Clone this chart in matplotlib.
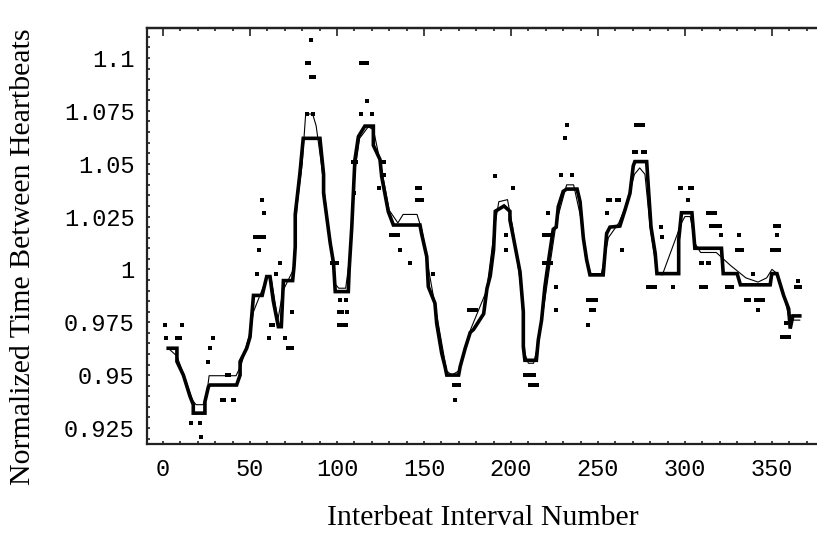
import matplotlib
matplotlib.use("Agg")
import matplotlib.pyplot as plt
import numpy as np

# thick (smoothed) curve vertices
thick_x = [3, 8, 8, 11.7, 15.5, 17.4, 17.4, 24.1, 24.1, 26.1, 27, 42.3, 44.3, 44.3,
           48.1, 50, 52, 57, 59.6, 61.5, 63.4, 66.3, 68, 69.2, 74.5, 75.3, 76, 76,
           78.7, 80.6, 90.2, 92.3, 92.3, 96.1, 98, 99, 106.5, 107, 108.5, 109.4,
           110.3, 112.3, 116, 120.9, 120.9, 124.7, 125.7, 129.5, 132.4, 147.7,
           148.6, 151.6, 152.5, 156.3, 157.3, 160.2, 162.1, 163.1, 169.9, 170.8,
           173.7, 176.6, 178.5, 184.3, 186.2, 188.1, 190, 190.5, 191, 196, 199.4,
           199.4, 201.3, 205.2, 207.1, 207.1, 208, 214.6, 215.7, 217.6, 219.5,
           221.4, 224.3, 226, 227.2, 230, 232, 238, 239.7, 241.6, 243.5, 245.4,
           253, 255, 256.9, 262.6, 265.5, 268.4, 270.3, 271.2, 278, 279, 280.5,
           282.9, 283.9, 296.4, 296.4, 298, 304, 305, 305.7, 321, 322, 330, 331.9,
           349, 349.9, 352.9, 356.7, 359.6, 360.5, 362, 366]
thick_y = [0.9627, 0.9627, 0.9564, 0.950, 0.940, 0.936, 0.932, 0.932, 0.9374, 0.9445,
           0.9453, 0.9453, 0.950, 0.9564, 0.9627, 0.968, 0.9877, 0.9877, 0.9966,
           0.9966, 0.985, 0.9729, 0.9729, 0.9947, 0.9947, 1.0014, 1.0108, 1.026,
           1.0455, 1.062, 1.062, 1.045, 1.036, 1.0125, 1.003, 0.9895, 0.9895, 1.0,
           1.02, 1.036, 1.0518, 1.0628, 1.0678, 1.0678, 1.0587, 1.052, 1.0439,
           1.0273, 1.021, 1.021, 1.017, 1.006, 0.9918, 0.984, 0.9745, 0.9603, 0.954,
           0.950, 0.950, 0.954, 0.9627, 0.9702, 0.9716, 0.979, 0.9909, 0.997, 1.0093,
           1.0183, 1.0275, 1.030, 1.0275, 1.0234, 1.0155, 0.9988, 0.980, 0.9634,
           0.957, 0.957, 0.9666, 0.976, 0.9918, 1.003, 1.019, 1.020, 1.0297, 1.0369,
           1.038, 1.038, 1.0321, 1.0148, 1.0045, 0.9974, 0.9974, 1.017, 1.020, 1.0205,
           1.028, 1.036, 1.049, 1.051, 1.051, 1.0384, 1.02, 1.0076, 0.998, 0.998,
           1.0139, 1.0268, 1.0268, 1.017, 1.010, 1.010, 0.998, 0.998, 0.9927, 0.9927,
           0.998, 0.998, 0.9877, 0.9814, 0.972, 0.978, 0.978]

# thin curve vertices
thin_x = [3, 8, 12, 17, 19, 23, 25, 26.5, 42, 45, 50, 52, 60, 62, 66, 69, 75, 77, 80,
          82, 86, 88, 91, 95, 99, 101, 105, 108, 110, 113, 118, 121, 125, 130, 135,
          138, 146, 149, 152, 157, 163, 166, 170, 177, 186, 191, 193, 198, 201, 206,
          208, 210, 213, 216, 222, 226, 232, 236, 240, 243, 246, 252, 256, 262, 266,
          271, 274, 277, 280, 284, 287, 298, 300, 303, 306, 309, 318, 326, 335, 342,
          347, 350, 353, 357, 360, 363, 366]
thin_y = [0.9627, 0.959, 0.950, 0.938, 0.936, 0.936, 0.940, 0.9497, 0.9497, 0.955,
          0.970, 0.980, 0.9966, 0.9966, 0.976, 0.990, 1.0, 1.03, 1.05, 1.0735, 1.0735,
          1.068, 1.05, 1.02, 0.993, 0.9911, 0.9911, 1.01, 1.045, 1.062, 1.0675, 1.066,
          1.05, 1.028, 1.022, 1.026, 1.026, 1.018, 1.003, 0.980, 0.952, 0.950, 0.952,
          0.972, 0.990, 1.022, 1.032, 1.033, 1.02, 0.990, 0.960, 0.9556, 0.9556, 0.966,
          1.0, 1.022, 1.040, 1.040, 1.025, 1.005, 0.998, 0.998, 1.015, 1.022, 1.030,
          1.045, 1.048, 1.045, 1.020, 0.998, 0.9974, 1.022, 1.025, 1.025, 1.012, 1.008,
          1.008, 1.002, 0.996, 0.994, 0.996, 1.0, 0.998, 0.988, 0.976, 0.976, 0.976]

# raw interval points that stand off the curves
dot_x = [1, 11, 2, 8, 9, 10, 16, 21, 22, 26, 27, 29, 34, 35, 40, 41, 37, 38,
         53, 54, 55, 56, 57, 58, 55, 54, 57, 58, 62, 63, 61, 65, 67, 70, 72, 73, 74, 74,
         85, 83, 84, 85, 86, 87, 83, 86,
         97, 100, 102, 105, 101, 103, 106, 101, 102, 104, 105,
         114, 115, 116, 117, 117, 114, 120, 109, 110, 111, 110, 124, 126, 127, 126, 127,
         146, 147, 148, 146, 147, 148, 149, 131, 132, 133, 134, 135, 136, 142, 155,
         176, 177, 178, 179, 180, 167, 168, 169, 170, 168,
         191, 201, 197, 197, 208, 209, 210, 211, 212, 213, 211, 212, 213, 214, 215,
         219, 220, 221, 222, 223, 219, 220, 221, 222, 223, 226, 226, 221,
         232, 231, 229, 235, 244, 245, 246, 247, 248, 249, 246, 247, 248, 244,
         256, 257, 261, 262, 255, 264, 272, 273, 274, 275, 276, 271, 272, 276, 277,
         286, 287, 279, 280, 281, 282, 283, 293, 297, 298, 303, 304, 302,
         309, 310, 313, 314, 309, 310, 311, 312, 313, 314, 315, 316, 317,
         315, 316, 317, 318, 319, 320, 321, 331, 330, 331, 332, 333,
         324, 325, 326, 327, 335, 336, 337, 339, 341, 342, 343, 344, 345, 342,
         352, 353, 354, 353, 350, 351, 353, 354, 358, 356, 357, 358, 359, 360,
         364, 365, 366]
dot_y = [0.9737, 0.9737, 0.9674, 0.9674, 0.9674, 0.9674, 0.9272, 0.9272, 0.9209,
         0.9564, 0.9627, 0.9674, 0.9382, 0.9382, 0.9382, 0.9382, 0.950, 0.950,
         1.0155, 1.0155, 1.0155, 1.0155, 1.0155, 1.0155, 1.0092, 0.998, 1.0328, 1.0268,
         0.9737, 0.9737, 0.9674, 0.998, 1.0029, 0.9674, 0.9627, 0.9627, 0.9627, 0.980,
         1.1085, 1.0975, 1.0975, 1.0912, 1.0912, 1.0912, 1.0734, 1.0734,
         1.0029, 1.0029, 0.9855, 0.9855, 0.980, 0.980, 0.980, 0.9737, 0.9737, 0.9737,
         0.9737,
         1.0975, 1.0975, 1.0975, 1.0975, 1.0797, 1.0734, 1.0734, 1.051, 1.051, 1.051,
         1.036, 1.0384, 1.051, 1.051, 1.0447, 1.0447,
         1.0384, 1.0384, 1.0384, 1.0328, 1.0328, 1.0328, 1.0328, 1.0163, 1.0163,
         1.0163, 1.0163, 1.0163, 1.0092, 1.0029, 0.998,
         0.9808, 0.9808, 0.9808, 0.9808, 0.9808, 0.9453, 0.9453, 0.9453, 0.9453, 0.9382,
         1.0443, 1.0384, 1.0163, 1.0092, 0.950, 0.950, 0.950, 0.950, 0.950, 0.950,
         0.9453, 0.9453, 0.9453, 0.9453, 0.9453,
         1.0163, 1.0163, 1.0163, 1.0163, 1.0163, 1.0029, 1.0029, 1.0029, 1.0029, 1.0029,
         0.9918, 0.9808, 1.0268,
         1.0683, 1.062, 1.0447, 1.0447, 0.9855, 0.9855, 0.9855, 0.9855, 0.9855, 0.9855,
         0.9808, 0.9808, 0.9808, 0.9737,
         1.0328, 1.0328, 1.0328, 1.0328, 1.0268, 1.0092, 1.0683, 1.0683, 1.0683, 1.0683,
         1.0683, 1.0557, 1.0557, 1.0557, 1.0557,
         1.0202, 1.0155, 0.9918, 0.9918, 0.9918, 0.9918, 0.9918, 0.9918, 1.0384, 1.0384,
         1.0384, 1.0384, 1.0328,
         1.0029, 1.0029, 1.0029, 1.0029, 0.9918, 0.9918, 0.9918, 0.9918, 1.0268, 1.0268,
         1.0268, 1.0268, 1.0268,
         1.0205, 1.0205, 1.0205, 1.0205, 1.0205, 1.0205, 1.0163, 1.0163, 1.0092, 1.0092,
         1.0092, 1.0092,
         0.9918, 0.9918, 0.9918, 0.9918, 0.9855, 0.9855, 0.9855, 0.998, 0.9855, 0.9855,
         0.9855, 0.9855, 0.9855, 0.9808,
         1.0205, 1.0205, 1.0205, 1.0163, 1.0092, 1.0092, 1.0092, 1.0092, 0.9745, 0.9682,
         0.9682, 0.9682, 0.9682, 0.9682,
         0.9918, 0.9945, 0.9918]

x_ticks = [0, 50, 100, 150, 200, 250, 300, 350]
y_ticks = [0.925, 0.95, 0.975, 1.0, 1.025, 1.05, 1.075, 1.1]
y_tick_labels = ["0.925", "0.95", "0.975", "1", "1.025", "1.05", "1.075", "1.1"]

fig = plt.figure(figsize=(8.17, 5.42), dpi=100)
ax = fig.add_axes([147 / 817, 98 / 542, 670 / 817, 416 / 542])

ax.plot(thick_x, thick_y, color="black", lw=2.6, solid_joinstyle="miter")
ax.plot(thin_x, thin_y, color="black", lw=0.8)
ax.plot(dot_x, dot_y, "s", color="black", ms=2.8, mew=0)

ax.set_xlim(-9.2, 375.9)
ax.set_ylim(0.9174, 1.1142)

ax.spines["right"].set_visible(False)
for s in ["left", "bottom", "top"]:
    ax.spines[s].set_linewidth(1.6)
    ax.spines[s].set_color("#222222")

ax.set_xticks(x_ticks)
ax.set_xticks(np.arange(0, 380, 10), minor=True)
ax.set_yticks(y_ticks)
ax.set_yticklabels(y_tick_labels)
ax.set_yticks(np.arange(0.92, 1.1141, 0.005), minor=True)
ax.tick_params(which="both", direction="in", length=2.5, width=1.2, color="#222222",
               top=False, right=False)
ax.tick_params(axis="x", pad=10)
ax.tick_params(axis="y", pad=9)
for lab in ax.get_xticklabels() + ax.get_yticklabels():
    lab.set_family("Liberation Mono")
    lab.set_fontsize(17)

# top frame ticks: small every 10, longer every 50
top = ax.secondary_xaxis("top")
top.set_xticks(x_ticks)
top.set_xticks(np.arange(0, 380, 10), minor=True)
top.set_xticklabels([])
top.tick_params(which="major", direction="in", length=5.5, width=1.2, color="#222222")
top.tick_params(which="minor", direction="in", length=2.5, width=1.2, color="#222222")
top.spines["top"].set_linewidth(1.6)

fig.text(483 / 817, 1 - 518 / 542, "Interbeat Interval Number", ha="center", va="center",
         family="Liberation Serif", fontsize=21.5)
fig.text(23 / 817, 1 - 257 / 542, "Normalized Time Between Heartbeats", ha="center",
         va="center", rotation=90, family="Liberation Serif", fontsize=21.5)

fig.savefig("out.png", dpi=100)
